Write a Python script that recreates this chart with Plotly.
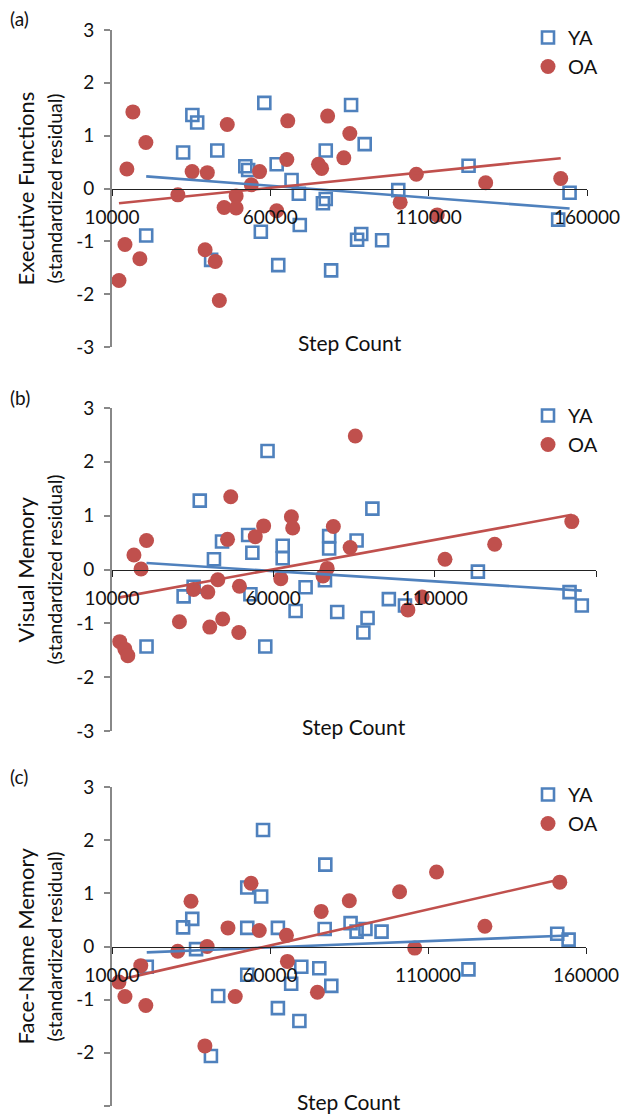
import numpy as np
import plotly.graph_objects as go

# ---------------- data ----------------
# Panel (a) Executive Functions
a_ya_x = [35380, 36900, 32460, 43250, 58100, 85500, 89800, 77500, 52100, 53000, 62000, 66700,
          69000, 76600, 77500, 100400, 122600, 154500, 150900, 20800, 57000, 69300, 62500,
          79200, 87400, 88700, 95300, 41300]
a_ya_y = [1.39, 1.25, 0.68, 0.72, 1.62, 1.58, 0.84, 0.72, 0.42, 0.35, 0.46, 0.16,
          -0.10, -0.28, -0.20, -0.03, 0.43, -0.08, -0.59, -0.89, -0.82, -0.69, -1.45,
          -1.55, -0.97, -0.86, -0.98, -1.35]
a_oa_x = [16600, 20700, 14700, 14100, 18800, 12200, 30800, 35300, 40100, 46400, 39400, 42600,
          43900, 45400, 49200, 49200, 54000, 56600, 62000, 65200, 65500, 75200, 76200, 78100,
          83200, 85100, 101000, 106100, 112700, 128000, 151700]
a_oa_y = [1.45, 0.87, 0.37, -1.06, -1.33, -1.74, -0.12, 0.32, 0.30, 1.21, -1.16, -1.38,
          -2.12, -0.36, -0.14, -0.37, 0.07, 0.32, -0.42, 0.55, 1.28, 0.46, 0.38, 1.37,
          0.58, 1.04, -0.26, 0.27, -0.50, 0.11, 0.19]

# Panel (b) Visual Memory
b_ya_x = [37200, 58200, 41600, 44100, 52200, 53500, 62900, 62900, 77300, 77300, 85800, 90700,
          32200, 35300, 52900, 70000, 76000, 66900, 79800, 89200, 87900, 95800, 100800,
          123400, 151800, 155600, 20700, 57500]
b_ya_y = [1.28, 2.20, 0.19, 0.52, 0.64, 0.31, 0.44, 0.21, 0.62, 0.39, 0.54, 1.13,
          -0.50, -0.32, -0.46, -0.33, -0.20, -0.77, -0.79, -0.90, -1.17, -0.55, -0.67,
          -0.04, -0.42, -0.67, -1.43, -1.43]
b_oa_x = [85400, 46800, 65600, 66000, 57000, 54400, 45800, 78600, 83800, 20700, 16800, 19000,
          42800, 49500, 35300, 39700, 62300, 75400, 76700, 30900, 40300, 44300, 49300,
          12400, 14000, 14900, 101700, 106100, 113200, 128600, 152500]
b_oa_y = [2.48, 1.35, 0.98, 0.77, 0.81, 0.61, 0.56, 0.80, 0.41, 0.54, 0.27, 0.01,
          -0.19, -0.31, -0.37, -0.42, -0.17, -0.12, 0.02, -0.97, -1.07, -0.92, -1.17,
          -1.34, -1.48, -1.60, -0.75, -0.51, 0.19, 0.47, 0.89]

# Panel (c) Face-Name Memory
c_ya_x = [57800, 77500, 52800, 57200, 32500, 35400, 52800, 62500, 77300, 85500, 87400, 90200,
          95300, 36600, 21000, 69900, 75600, 52800, 66700, 79400, 43600, 62500, 69300,
          41300, 122800, 150900, 154500]
c_ya_y = [2.19, 1.54, 1.11, 0.94, 0.36, 0.52, 0.35, 0.35, 0.33, 0.44, 0.28, 0.33,
          0.28, -0.05, -0.38, -0.38, -0.41, -0.53, -0.70, -0.74, -0.93, -1.16, -1.40,
          -2.06, -0.43, 0.24, 0.13]
c_oa_x = [54000, 35000, 76200, 85100, 101000, 112700, 151700, 128000, 105800, 46700, 56600,
          65200, 40100, 30800, 65500, 19100, 12200, 14100, 20700, 49000, 75000, 39400]
c_oa_y = [1.19, 0.85, 0.66, 0.86, 1.03, 1.40, 1.21, 0.38, -0.03, 0.35, 0.30,
          0.21, 0.00, -0.09, -0.28, -0.36, -0.67, -0.94, -1.11, -0.94, -0.86, -1.87]

panel_labels = ["(a)", "(b)", "(c)"]
y_titles = ["Executive Functions", "Visual Memory", "Face-Name Memory"]
y_subtitle = "(standardized residual)"
x_title = "Step Count"
x_tickvals = [10000, 60000, 110000, 160000]
x_ticktext = ["10000", "60000", "110000", "160000"]
y_tickvals = [-3, -2, -1, 0, 1, 2, 3]
y_ticktext = ["-3", "-2", "-1", "0", "1", "2", "3"]
series_names = ["YA", "OA"]

# ---------------- styling / layout ----------------
W, H = 627, 1115
BLUE = "#4F81BD"
RED = "#C0504D"
FONT = "Lato"

panels = [
    dict(ya=(a_ya_x, a_ya_y), oa=(a_oa_x, a_oa_y), xpx=(112, 587), ypx=(30, 347)),
    dict(ya=(b_ya_x, b_ya_y), oa=(b_oa_x, b_oa_y), xpx=(112, 596), ypx=(408, 731)),
    dict(ya=(c_ya_x, c_ya_y), oa=(c_oa_x, c_oa_y), xpx=(112, 586), ypx=(787, 1106)),
]

fig = go.Figure()
layout = {}
annotations = []


def trend(xs, ys):
    xs = np.asarray(xs, float)
    ys = np.asarray(ys, float)
    k, b = np.polyfit(xs, ys, 1)
    xx = np.array([xs.min(), xs.max()])
    return xx, k * xx + b


for i, p in enumerate(panels):
    n = "" if i == 0 else str(i + 1)
    xa, ya = "x" + n, "y" + n
    leg = "legend" + n
    xd = [p["xpx"][0] / W, p["xpx"][1] / W]
    yd = [1 - p["ypx"][1] / H, 1 - p["ypx"][0] / H]

    for key, color, name in (("ya", BLUE, series_names[0]), ("oa", RED, series_names[1])):
        xs, ys = p[key]
        if key == "ya":
            marker = dict(symbol="square-open", size=12, color=color, line=dict(width=2.6, color=color))
        else:
            marker = dict(symbol="circle", size=15, color=color, line=dict(width=0))
        fig.add_trace(go.Scatter(x=xs, y=ys, mode="markers", name=name, marker=marker,
                                 xaxis=xa, yaxis=ya, legend=leg, showlegend=True))
    for key, color in (("ya", BLUE), ("oa", RED)):
        xs, ys = p[key]
        lx, ly = trend(xs, ys)
        fig.add_trace(go.Scatter(x=lx, y=ly, mode="lines", line=dict(color=color, width=2.6),
                                 xaxis=xa, yaxis=ya, showlegend=False, hoverinfo="skip"))

    layout["xaxis" + n] = dict(
        domain=xd, range=[10000, 160000], anchor="free", position=(yd[0] + yd[1]) / 2,
        tickvals=x_tickvals, ticktext=x_ticktext, ticks="outside", ticklen=6, tickwidth=1.3,
        tickcolor="#222", showline=True, linecolor="#222", linewidth=1.3, showgrid=False,
        zeroline=False, tickfont=dict(family=FONT, size=19, color="#111"),
        ticklabelstandoff=6, automargin=False,
    )
    layout["yaxis" + n] = dict(
        domain=yd, range=[-3, 3], anchor=xa, tickvals=y_tickvals, ticktext=y_ticktext,
        ticks="outside", ticklen=6,
        tickwidth=1.5, tickcolor="#888", showline=True, linecolor="#888", linewidth=1.8,
        showgrid=False, zeroline=False, tickfont=dict(family=FONT, size=19, color="#111"),
        ticklabelstandoff=6, automargin=False,
    )
    legtop = 1 - (p["ypx"][0] - 12) / H
    layout[leg] = dict(x=528 / W, xanchor="left", y=legtop, yanchor="top",
                       bgcolor="rgba(0,0,0,0)", font=dict(family=FONT, size=20, color="#111"),
                       itemwidth=30, tracegroupgap=0)

    # panel label
    annotations.append(dict(text=panel_labels[i], xref="paper", yref="paper", x=8 / W,
                            y=1 - (p["ypx"][0] - 11) / H, xanchor="left", yanchor="middle",
                            showarrow=False, font=dict(family=FONT, size=19, color="#111")))
    # y title (two lines)
    annotations.append(dict(text=y_titles[i], xref="paper", yref=ya, x=25 / W, y=0,
                            textangle=-90, showarrow=False, xanchor="center", yanchor="middle",
                            font=dict(family=FONT, size=22, color="#111")))
    annotations.append(dict(text=y_subtitle, xref="paper", yref=ya, x=54 / W, y=0,
                            textangle=-90, showarrow=False, xanchor="center", yanchor="middle",
                            font=dict(family=FONT, size=19.5, color="#111")))
    # x title
    annotations.append(dict(text=x_title, xref=xa, yref=ya, x=85000, y=-2.92, showarrow=False,
                            xanchor="center", yanchor="middle",
                            font=dict(family=FONT, size=21, color="#111")))

fig.update_layout(
    width=W, height=H, margin=dict(l=0, r=0, t=0, b=0, autoexpand=False),
    paper_bgcolor="white", plot_bgcolor="white",
    annotations=annotations, **layout,
)

fig.write_html("out.html", config={"displayModeBar": False},
               post_script="document.body.style.margin='0';document.body.style.overflow='hidden';")
